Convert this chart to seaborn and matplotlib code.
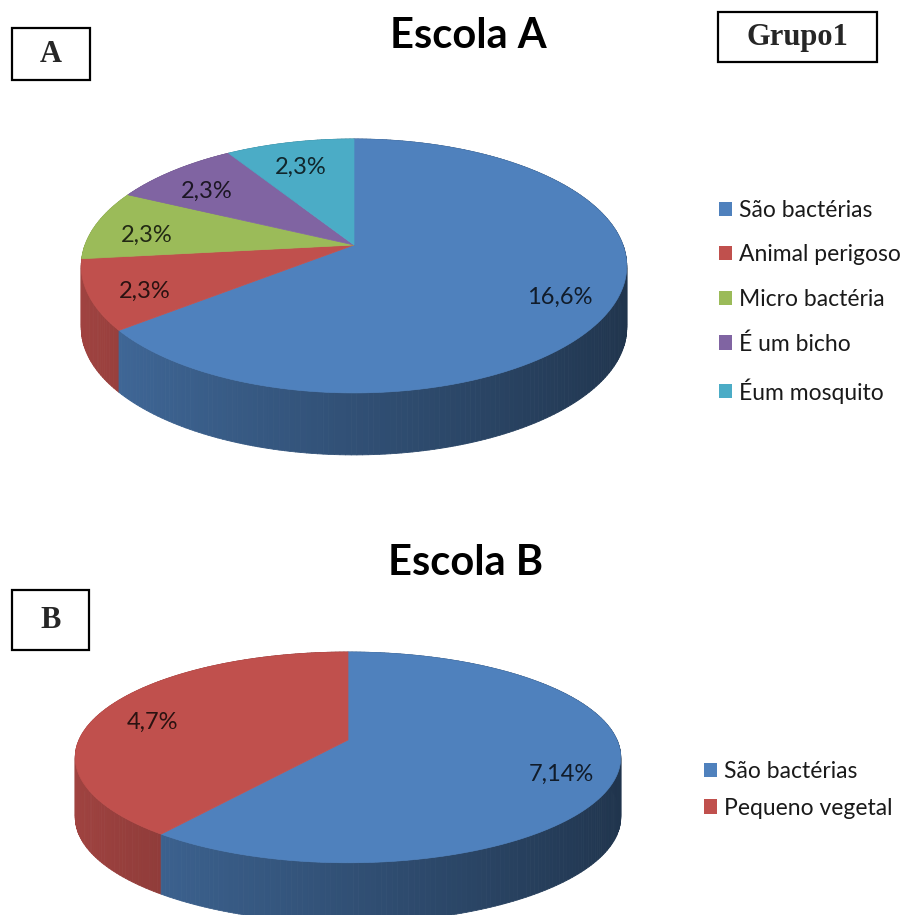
import numpy as np
import matplotlib
matplotlib.use("Agg")
import matplotlib.pyplot as plt
from matplotlib.patches import Polygon, Rectangle, Patch
from matplotlib.collections import PolyCollection
from matplotlib.colors import to_rgb
import seaborn as sns

# ---- dados ----
categorias_a = ["São bactérias", "Animal perigoso", "Micro bactéria", "É um bicho", "Éum mosquito"]
valores_a = [16.6, 2.3, 2.3, 2.3, 2.3]
rotulos_a = ["16,6%", "2,3%", "2,3%", "2,3%", "2,3%"]

categorias_b = ["São bactérias", "Pequeno vegetal"]
valores_b = [7.14, 4.7]
rotulos_b = ["7,14%", "4,7%"]

paleta = sns.color_palette(["#4F81BD", "#C0504D", "#9BBB59", "#8064A2", "#4BACC6"])

sns.set_theme(style="white")
plt.rcParams["font.family"] = ["Lato", "DejaVu Sans"]

W, H = 907, 915
fig = plt.figure(figsize=(W / 100, H / 100), dpi=100)
ax = fig.add_axes([0, 0, 1, 1])
ax.set_xlim(0, W)
ax.set_ylim(H, 0)
ax.axis("off")


def projetar(theta, r, geo):
    """Perspective projection of a point on the pie's top disk (theta clockwise from 12 o'clock)."""
    cx, cy, a, b, k = geo
    u = r * np.sin(theta)
    v = r * np.cos(theta)
    w = 1 + k * v
    return cx + a * u / w, cy - b * v / w


def sombrear(cor, u):
    f = 0.62 - 0.22 * u
    return tuple(np.clip(np.array(to_rgb(cor)) * f, 0, 1))


def escurecer(cor, f=0.22):
    return tuple(np.array(to_rgb(cor)) * f)


def pizza_3d(ax, valores, rotulos, cores, geo, altura, r_rotulo=0.8, dy_rotulo=7):
    valores = np.asarray(valores, dtype=float)
    limites = np.concatenate([[0], np.cumsum(valores) / valores.sum()]) * 2 * np.pi

    # side wall, drawn back to front
    quads, cores_q, prof = [], [], []
    for i in range(len(valores)):
        t0, t1 = limites[i], limites[i + 1]
        n = max(int(np.degrees(t1 - t0)), 2)
        ts = np.linspace(t0, t1, n + 1)
        for ta, tb in zip(ts[:-1], ts[1:]):
            xa, ya = projetar(ta, 1, geo)
            xb, yb = projetar(tb, 1, geo)
            quads.append([(xa, ya), (xb, yb), (xb, yb + altura), (xa, ya + altura)])
            tm = 0.5 * (ta + tb)
            cores_q.append(sombrear(cores[i], np.sin(tm)))
            prof.append(np.cos(tm))
    ordem = np.argsort(prof)[::-1]
    quads = [quads[j] for j in ordem]
    cores_q = [cores_q[j] for j in ordem]
    ax.add_collection(PolyCollection(quads, facecolors=cores_q, edgecolors=cores_q,
                                     linewidths=0.6, zorder=2))

    # top face
    centro = projetar(0.0, 0.0, geo)
    for i in range(len(valores)):
        t0, t1 = limites[i], limites[i + 1]
        ts = np.linspace(t0, t1, max(int(np.degrees(t1 - t0)) * 2, 4))
        xs, ys = projetar(ts, 1, geo)
        pts = [centro] + list(zip(xs, ys))
        ax.add_patch(Polygon(pts, closed=True, facecolor=cores[i], edgecolor=cores[i],
                             linewidth=0.5, zorder=3))

    # value labels
    for i in range(len(valores)):
        tm = 0.5 * (limites[i] + limites[i + 1])
        x, y = projetar(tm, r_rotulo, geo)
        ax.text(x, y + dy_rotulo, rotulos[i], ha="center", va="center", fontsize=17,
                color=escurecer(cores[i]), zorder=4)


# Escola A
geo_a = (354, 245, 269, 123.5, 0.165)
pizza_3d(ax, valores_a, rotulos_a, paleta, geo_a, 62)
# Escola B
geo_b = (348, 740, 269, 102.5, 0.165)
pizza_3d(ax, valores_b, rotulos_b, paleta, geo_b, 60)

# titles
ax.text(468, 36, "Escola A", ha="center", va="center", fontsize=30, fontweight="bold",
        color="black")
ax.text(466, 563, "Escola B", ha="center", va="center", fontsize=30, fontweight="bold",
        color="black")

# framed panel tags
serif = ["Liberation Serif", "DejaVu Serif"]
for (x0, y0, w, h, txt) in [(12, 28, 78, 52, "A"), (718, 12, 159, 50, "Grupo1"),
                            (12, 590, 77, 60, "B")]:
    ax.add_patch(Rectangle((x0, y0), w, h, fill=False, edgecolor="black", linewidth=1.6,
                           zorder=5))
    ax.text(x0 + w / 2, y0 + h / 2 + 1, txt, ha="center", va="center", fontsize=22,
            fontweight="bold", family=serif, zorder=6)

# legends
def legenda(categorias, cores, x, y, espaco):
    alcas = [Patch(facecolor=c, edgecolor="none", label=l) for c, l in zip(cores, categorias)]
    fig.legend(handles=alcas, loc="upper left", bbox_to_anchor=(x / W, 1 - y / H),
               frameon=False, fontsize=16.5, handlelength=0.57, handleheight=0.57,
               handletextpad=0.3, labelspacing=espaco, borderaxespad=0, borderpad=0,
               labelcolor="#1a1a1a")

legenda(categorias_a, paleta, 719, 200, 1.02)
legenda(categorias_b, paleta[:2], 704, 761, 0.68)

fig.savefig("out.png", dpi=100)
